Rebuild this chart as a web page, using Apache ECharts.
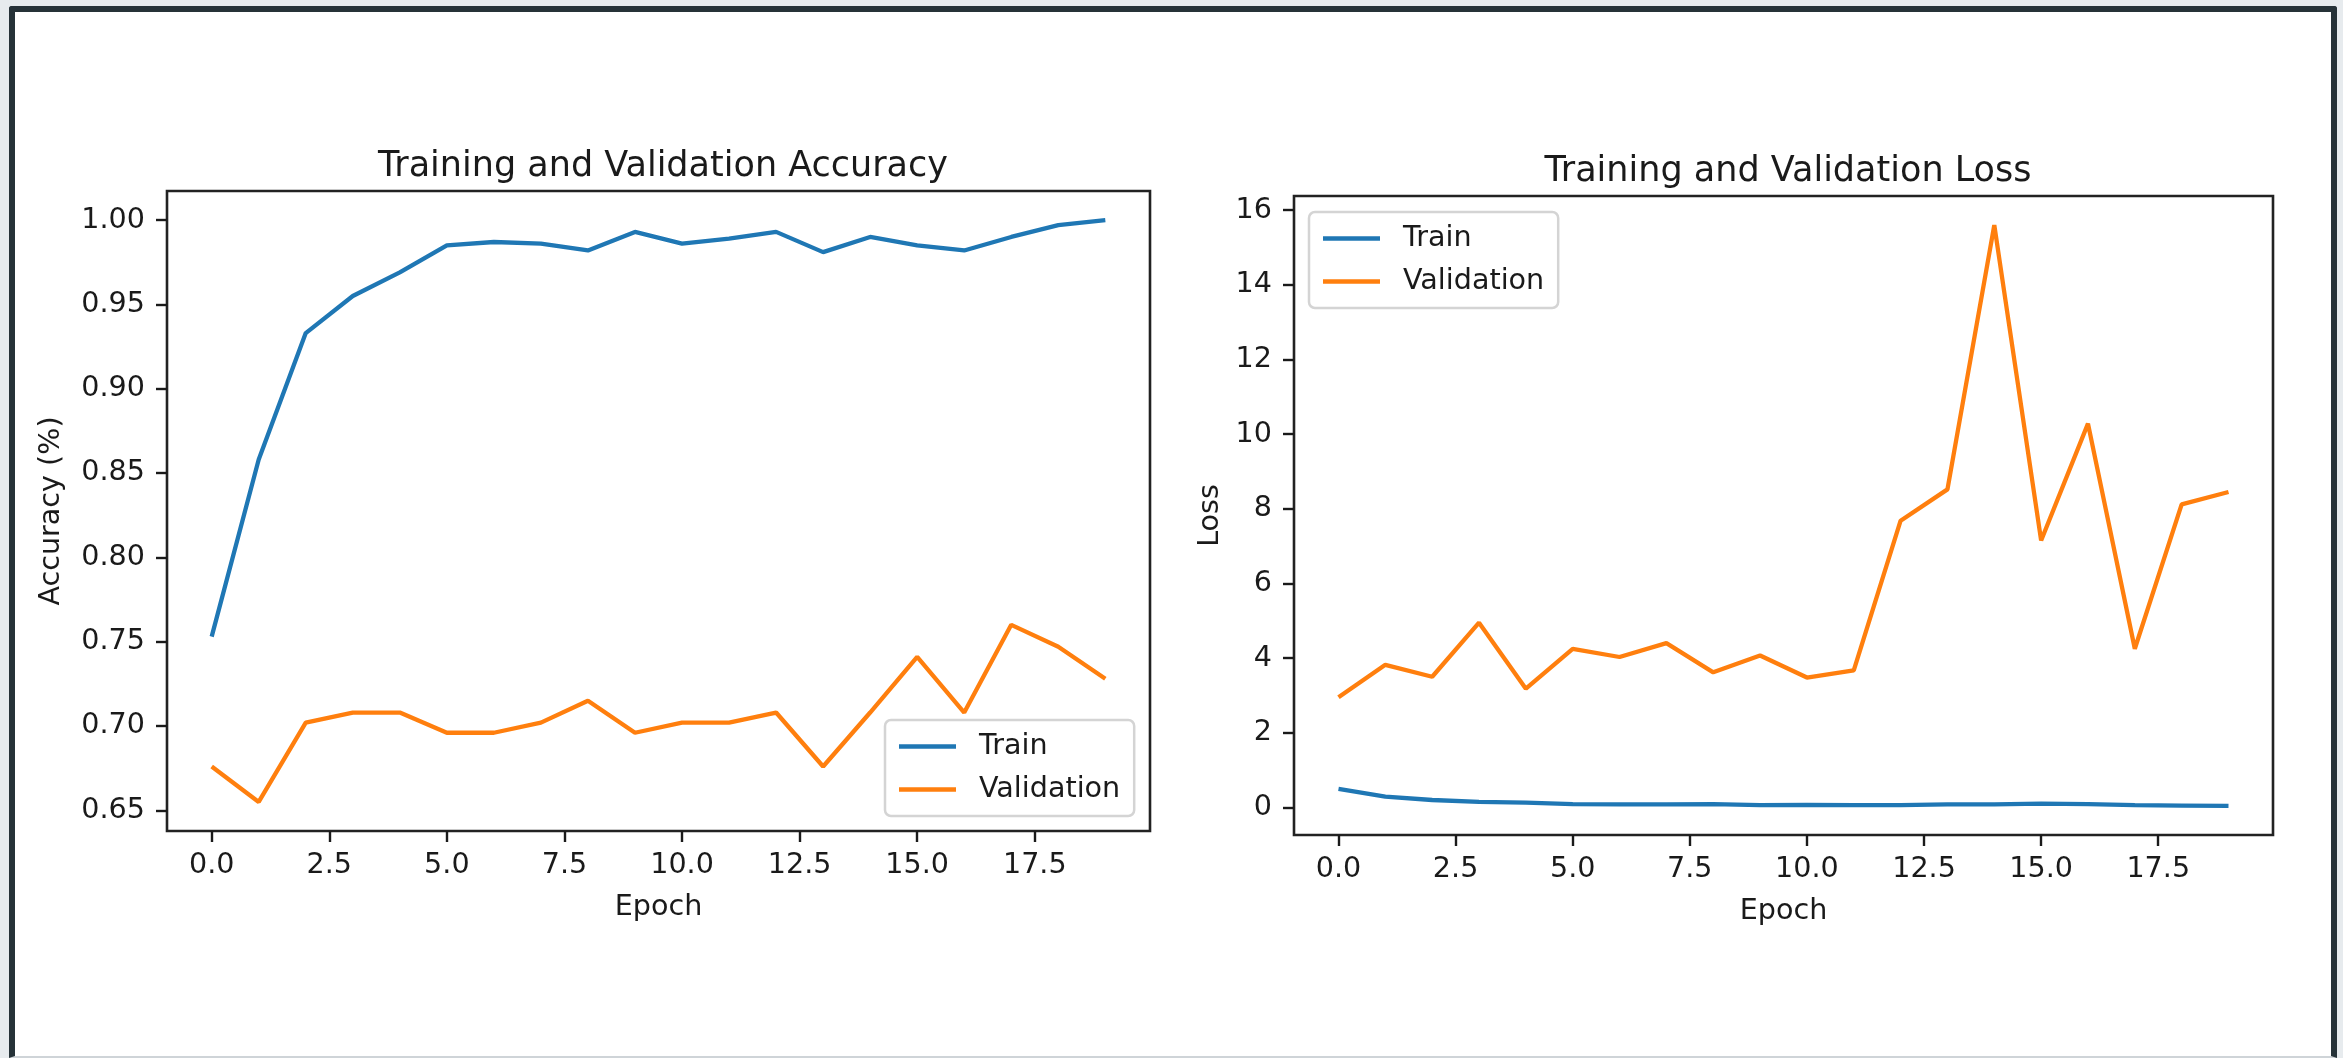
<!DOCTYPE html>
<html>
<head>
<meta charset="utf-8">
<title>Training and Validation Accuracy / Loss</title>
<script src="https://cdn.jsdelivr.net/npm/echarts@6/dist/echarts.min.js"></script>
<style>
  html, body { margin: 0; padding: 0; width: 2343px; height: 1058px; overflow: hidden; background: #e7ebee; }
  #frame {
    position: absolute; left: 9px; top: 6px; width: 2316px; height: 1044px;
    background: #ffffff;
    border-top: 6px solid #263238; border-left: 6px solid #263238; border-right: 6px solid #263238;
    border-bottom: 2px solid #cfd4d8;
    border-radius: 3px 3px 0 0;
  }
  #chart { position: absolute; left: 0; top: 0; width: 2343px; height: 1058px; }
</style>
</head>
<body>
<div id="frame"></div>
<div id="chart"></div>
<script>
// Epoch numbers
const epochs = [0, 1, 2, 3, 4, 5, 6, 7, 8, 9, 10, 11, 12, 13, 14, 15, 16, 17, 18, 19];

// Accuracy history
const trainAcc = [0.753, 0.858, 0.933, 0.955, 0.969, 0.985, 0.987, 0.986, 0.982, 0.993,
                  0.986, 0.989, 0.993, 0.981, 0.990, 0.985, 0.982, 0.990, 0.997, 1.000];
const valAcc   = [0.676, 0.655, 0.702, 0.708, 0.708, 0.696, 0.696, 0.702, 0.715, 0.696,
                  0.702, 0.702, 0.708, 0.676, 0.708, 0.741, 0.708, 0.760, 0.747, 0.728];

// Loss history
const trainLoss = [0.50, 0.29, 0.20, 0.15, 0.13, 0.09, 0.08, 0.08, 0.09, 0.06,
                   0.07, 0.06, 0.06, 0.08, 0.08, 0.10, 0.09, 0.06, 0.05, 0.04];
const valLoss   = [2.95, 3.82, 3.50, 4.95, 3.18, 4.25, 4.03, 4.40, 3.62, 4.07,
                   3.48, 3.67, 7.68, 8.52, 15.60, 7.15, 10.28, 4.25, 8.12, 8.45];

// Tick positions
const epochTicks = [0, 2.5, 5, 7.5, 10, 12.5, 15, 17.5];
const accTicks   = [0.65, 0.70, 0.75, 0.80, 0.85, 0.90, 0.95, 1.00];
const lossTicks  = [0, 2, 4, 6, 8, 10, 12, 14, 16];

const FONT = 'DejaVu Sans';
const INK = '#1a1a1a';
const BLUE = '#1f77b4';
const ORANGE = '#ff7f0e';

// 5% padding on each side of the data range
function padded(arrs) {
  const all = [].concat(...arrs);
  const lo = Math.min(...all), hi = Math.max(...all);
  const m = (hi - lo) * 0.05;
  return [lo - m, hi + m];
}

const xRange = padded([epochs]);
const accRange = padded([trainAcc, valAcc]);
const lossRange = padded([trainLoss, valLoss]);

function pairs(ys) { return ys.map((y, i) => [epochs[i], y]); }

function xAxis(gridIndex, nameGap) {
  return {
    type: 'value', gridIndex, min: xRange[0], max: xRange[1],
    name: 'Epoch', nameLocation: 'middle', nameGap,
    nameTextStyle: { fontFamily: FONT, fontSize: 28.6, color: INK },
    axisLine: { show: false, onZero: false },
    splitLine: { show: false },
    axisTick: { show: true, inside: false, length: 11, customValues: epochTicks,
                lineStyle: { color: INK, width: 2.4 } },
    axisLabel: { show: true, customValues: epochTicks, margin: 20,
                 fontFamily: FONT, fontSize: 28.6, color: INK,
                 formatter: v => v.toFixed(1) }
  };
}

function yAxis(gridIndex, range, ticks, digits, name, nameGap) {
  return {
    type: 'value', gridIndex, min: range[0], max: range[1],
    name, nameLocation: 'middle', nameGap, nameRotate: 90,
    nameTextStyle: { fontFamily: FONT, fontSize: 28.6, color: INK },
    axisLine: { show: false, onZero: false },
    splitLine: { show: false },
    axisTick: { show: true, inside: false, length: 11, customValues: ticks,
                lineStyle: { color: INK, width: 2.4 } },
    axisLabel: { show: true, customValues: ticks, margin: 22,
                 fontFamily: FONT, fontSize: 28.6, color: INK,
                 formatter: v => v.toFixed(digits) }
  };
}

function lineSeries(name, data, color, idx) {
  return {
    name, type: 'line', data: pairs(data), xAxisIndex: idx, yAxisIndex: idx,
    showSymbol: false, symbol: 'none', smooth: false, animation: false,
    lineStyle: { color, width: 4.3 }, itemStyle: { color }
  };
}

function legend(left, top) {
  return {
    orient: 'vertical', left, top,
    data: [{ name: 'Train', icon: 'rect' }, { name: 'Validation', icon: 'rect' }],
    itemWidth: 57, itemHeight: 4.3, itemGap: 14,
    padding: [12, 14, 12, 14],
    backgroundColor: 'rgba(255,255,255,0.8)',
    borderColor: '#d4d4d4', borderWidth: 2.5, borderRadius: 6,
    selectedMode: false,
    textStyle: { fontFamily: FONT, fontSize: 28.6, color: INK, padding: [0, 0, 0, 18] }
  };
}

const chart = echarts.init(document.getElementById('chart'), null, { renderer: 'canvas' });
chart.setOption({
  backgroundColor: 'transparent',
  animation: false,
  title: [
    { text: 'Training and Validation Accuracy', left: 658, top: 144, textAlign: 'center',
      textStyle: { fontFamily: FONT, fontSize: 35, fontWeight: 'normal', color: INK } },
    { text: 'Training and Validation Loss', left: 1783, top: 149, textAlign: 'center',
      textStyle: { fontFamily: FONT, fontSize: 35, fontWeight: 'normal', color: INK } }
  ],
  grid: [
    { left: 167, top: 191, width: 983, height: 640, show: true, borderColor: '#222', borderWidth: 2.6, backgroundColor: 'transparent' },
    { left: 1294, top: 196, width: 979, height: 639, show: true, borderColor: '#222', borderWidth: 2.6, backgroundColor: 'transparent' }
  ],
  xAxis: [xAxis(0, 62), xAxis(1, 62)],
  yAxis: [
    yAxis(0, accRange, accTicks, 2, 'Accuracy (%)', 101),
    yAxis(1, lossRange, lossTicks, 0, 'Loss', 69)
  ],
  legend: [legend(885, 720), legend(1309, 212)],
  series: [
    lineSeries('Train', trainAcc, BLUE, 0),
    lineSeries('Validation', valAcc, ORANGE, 0),
    lineSeries('Train', trainLoss, BLUE, 1),
    lineSeries('Validation', valLoss, ORANGE, 1)
  ]
});
</script>
</body>
</html>
